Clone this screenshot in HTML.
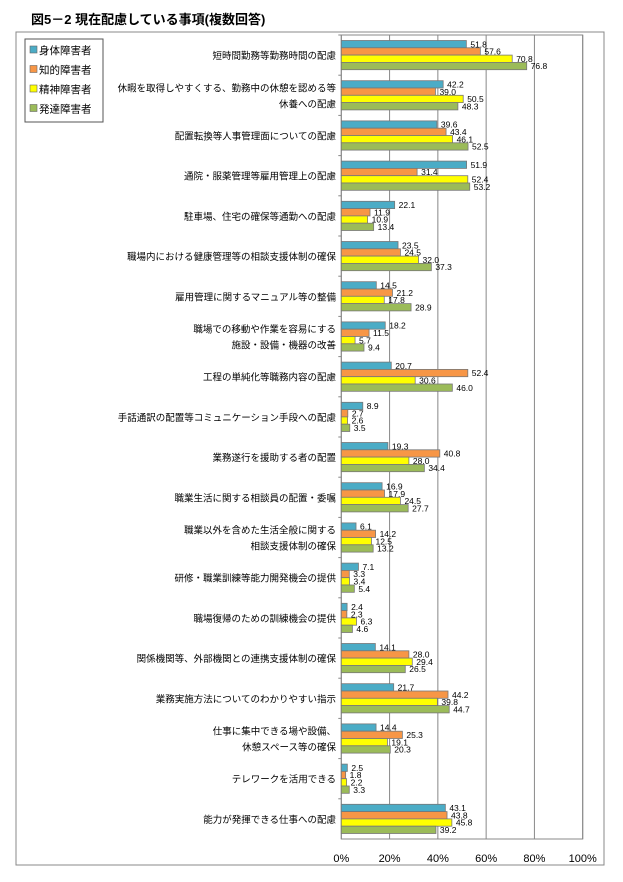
<!DOCTYPE html>
<html><head><meta charset="utf-8"><style>
body{margin:0;background:#fff;}
svg text{font-family:"Liberation Sans","Noto Sans CJK JP",sans-serif;}
</style></head><body>
<svg id="chart" width="623" height="877" xmlns="http://www.w3.org/2000/svg">
<text x="31" y="24" font-size="13" font-weight="bold" fill="#000">図5－2  現在配慮している事項(複数回答)</text>
<rect x="16" y="32" width="588" height="833" fill="#fff" stroke="#888" stroke-width="1"/>
<g id="plot"></g>
<g>
<rect x="25" y="39" width="78" height="83" fill="#fff" stroke="#555"/>
<g id="legend"></g>
</g>
</svg>
<script>
const categories=[["短時間勤務等勤務時間の配慮"],["休暇を取得しやすくする、勤務中の休憩を認める等","休養への配慮"],["配置転換等人事管理面についての配慮"],["通院・服薬管理等雇用管理上の配慮"],["駐車場、住宅の確保等通勤への配慮"],["職場内における健康管理等の相談支援体制の確保"],["雇用管理に関するマニュアル等の整備"],["職場での移動や作業を容易にする","施設・設備・機器の改善"],["工程の単純化等職務内容の配慮"],["手話通訳の配置等コミュニケーション手段への配慮"],["業務遂行を援助する者の配置"],["職業生活に関する相談員の配置・委嘱"],["職業以外を含めた生活全般に関する","相談支援体制の確保"],["研修・職業訓練等能力開発機会の提供"],["職場復帰のための訓練機会の提供"],["関係機関等、外部機関との連携支援体制の確保"],["業務実施方法についてのわかりやすい指示"],["仕事に集中できる場や設備、","休憩スペース等の確保"],["テレワークを活用できる"],["能力が発揮できる仕事への配慮"]];
const seriesNames=["身体障害者","知的障害者","精神障害者","発達障害者"];
const physical=[51.8,42.2,39.6,51.9,22.1,23.5,14.5,18.2,20.7,8.9,19.3,16.9,6.1,7.1,2.4,14.1,21.7,14.4,2.5,43.1];
const intellectual=[57.6,39.0,43.4,31.4,11.9,24.5,21.2,11.5,52.4,2.7,40.8,17.9,14.2,3.3,2.3,28.0,44.2,25.3,1.8,43.8];
const mental=[70.8,50.5,46.1,52.4,10.9,32.0,17.8,5.7,30.6,2.6,28.0,24.5,12.5,3.4,6.3,29.4,39.8,19.1,2.2,45.8];
const developmental=[76.8,48.3,52.5,53.2,13.4,37.3,28.9,9.4,46.0,3.5,34.4,27.7,13.2,5.4,4.6,26.5,44.7,20.3,3.3,39.2];
const xTicks=[0,20,40,60,80,100];
const series=[physical,intellectual,mental,developmental];
const colors=["#4bacc6","#f79646","#ffff00","#9bbb59"];
const X0=341.3,X1=582.7,Y0=35,Y1=839;
const xs=v=>X0+(X1-X0)*v/100;
const band=(Y1-Y0)/categories.length;
const NS="http://www.w3.org/2000/svg";
const plot=document.getElementById('plot');
function mk(t,a,p){const e=document.createElementNS(NS,t);for(const k in a)e.setAttribute(k,a[k]);(p||plot).appendChild(e);return e;}
mk('rect',{x:X0,y:Y0,width:X1-X0,height:Y1-Y0,fill:'#fff',stroke:'#888'});
xTicks.forEach(t=>{
  const g=mk('line',{x1:xs(t),x2:xs(t),y1:Y0,y2:Y1,stroke:'#888','stroke-width':1});
  
  
  const tx=mk('text',{x:xs(t),y:862,'font-size':11,'text-anchor':'middle',fill:'#000'});
  tx.textContent=t+'%';
  
  
});
const bh=7.3;
categories.forEach((c,i)=>{
  const top=Y0+band*i;
  mk('line',{x1:X0-3,x2:X0,y1:top,y2:top,stroke:'#888'});
  const cy=top+band/2;
  c.forEach((ln,j)=>{
    const t=mk('text',{x:336,y:cy+4+(j-(c.length-1)/2)*16,'font-size':9.5,'text-anchor':'end',fill:'#000'});
    t.textContent=ln;
    
    
  });
  const b0=cy-bh*2;
  series.forEach((s,k)=>{
    const v=s[i];
    const r=mk('rect',{x:X0,y:b0+k*bh,width:xs(v)-X0,height:bh,fill:colors[k],stroke:'#777','stroke-width':0.8});
    
    
    const t=mk('text',{x:xs(v)+4,y:b0+k*bh+bh-0.5,'font-size':8.5,fill:'#000'});
    t.textContent=v.toFixed(1);
    
    
  });
});
const lg=document.getElementById('legend');
seriesNames.forEach((n,k)=>{
  const y=44+k*19.5;
  const r=mk('rect',{x:30,y:y+2,width:7,height:7,fill:colors[k],stroke:'#666','stroke-width':0.6},lg);
  
  
  const t=mk('text',{x:39,y:y+10,'font-size':10.5,fill:'#000'},lg);
  t.textContent=n;
  
  
});
</script>
</body></html>
